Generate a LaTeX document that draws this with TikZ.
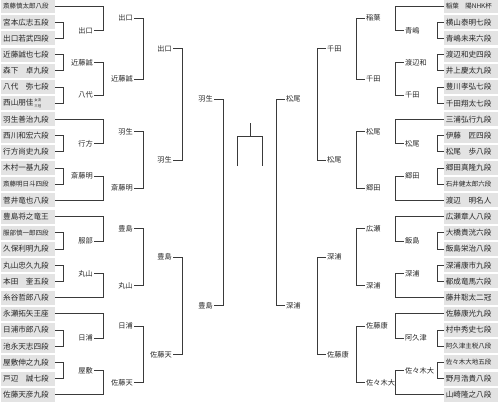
\documentclass[tikz,border=0pt]{standalone}
\usepackage{fontspec}
\setmainfont{Noto Sans CJK JP}
\usetikzlibrary{calc}
\definecolor{boxgray}{HTML}{E3E3E3}
\definecolor{wiregray}{HTML}{3A3A3A}
\newcommand\smallname{\fontsize{6.5}{7}\selectfont}
\newcommand\jstack[2]{\kern0.8pt\raisebox{-2pt}{\fontsize{3.4}{5.2}\selectfont\shortstack{#1\\#2}}}

\begin{document}
\begin{tikzpicture}[
  x=1pt,y=-1pt,
  player/.style={fill=boxgray,text width=50pt,inner sep=2pt,minimum height=14pt,
    align=left,font=\fontsize{7.6}{8}\selectfont,text=black!85},
  lbl/.style={inner sep=1pt,font=\fontsize{7.2}{8}\selectfont,text=black!85},
  wire/.style={draw=wiregray,line width=0.7pt}
]
\useasboundingbox (0,0) rectangle (499,402);
% columns of the bracket
\coordinate (cL1) at (63,0);  \coordinate (cL2) at (103,0);
\coordinate (cL3) at (143,0); \coordinate (cL4) at (182,0);
\coordinate (cL5) at (223,0);
\coordinate (cR1) at (437,0); \coordinate (cR2) at (395,0);
\coordinate (cR3) at (356,0); \coordinate (cR4) at (317,0);
\coordinate (cR5) at (276,0);

% players, left block
\foreach \i/\lab in {1/{\smallname 斎藤慎太郎八段},2/宮本広志五段,3/出口若武四段,
  4/近藤誠也七段,5/森下　卓九段,6/八代　弥七段,7/{西山朋佳\jstack{女流}{三冠}},
  8/羽生善治九段,9/西川和宏六段,10/行方尚史九段,11/木村一基九段,
  12/{\smallname 斎藤明日斗四段},13/菅井竜也八段,14/豊島将之竜王,
  15/{\smallname 服部慎一郎四段},16/久保利明九段,17/丸山忠久九段,18/本田　奎五段,
  19/糸谷哲郎八段,20/永瀬拓矢王座,21/日浦市郎八段,22/池永天志四段,
  23/屋敷伸之九段,24/戸辺　誠七段,25/佐藤天彦九段}{
  \node[player,anchor=west] (L\i) at (1,{6+16.2*(\i-1)}) {\lab};
}
% players, right block
\foreach \i/\lab in {1/{\smallname 稲葉　陽NHK杯},2/横山泰明七段,3/青嶋未来六段,
  4/渡辺和史四段,5/井上慶太九段,6/豊川孝弘七段,7/千田翔太七段,8/三浦弘行九段,
  9/伊藤　匠四段,10/松尾　歩八段,11/郷田真隆九段,12/{\smallname 石井健太郎六段},
  13/渡辺　明名人,14/広瀬章人八段,15/大橋貴洸六段,16/飯島栄治八段,
  17/深浦康市九段,18/都成竜馬六段,19/藤井聡太二冠,20/佐藤康光九段,
  21/村中秀史七段,22/{\smallname 阿久津主税八段},23/{\smallname 佐々木大地五段},
  24/野月浩貴八段,25/山崎隆之八段}{
  \node[player,anchor=east] (R\i) at (498,{6+16.2*(\i-1)}) {\lab};
}

% winners, left
\foreach \nm/\x/\y/\txt in {l1a/94/30.3/出口,l1b/94/62.7/近藤誠,l1c/94/95.1/八代,
  l1d/94/143.7/行方,l1e/94/176.1/斎藤明,l1f/94/240.9/服部,l1g/94/273.3/丸山,
  l1h/94/338.1/日浦,l1i/94/370.5/屋敷,
  l2a/134/18.15/出口,l2b/134/78.9/近藤誠,l2c/134/131.55/羽生,l2d/134/188.25/斎藤明,
  l2e/134/228.75/豊島,l2f/134/285.45/丸山,l2g/134/325.95/日浦,l2h/134/382.65/佐藤天,
  l3a/173/48.5/出口,l3b/173/159.9/羽生,l3c/173/257.1/豊島,l3d/173/354.3/佐藤天,
  l4a/214/99/羽生,l4b/214/305.7/豊島}{
  \node[lbl,anchor=east] (\nm) at (\x,\y) {\txt};
}
% winners, right
\foreach \nm/\x/\y/\txt in {r1a/404/30.3/青嶋,r1b/404/62.7/渡辺和,r1c/404/95.1/千田,
  r1d/404/143.7/松尾,r1e/404/176.1/郷田,r1f/404/240.9/飯島,r1g/404/273.3/深浦,
  r1h/404/338.1/阿久津,r1i/404/370.5/佐々木大,
  r2a/365/18.15/稲葉,r2b/365/78.9/千田,r2c/365/131.55/松尾,r2d/365/188.25/郷田,
  r2e/365/228.75/広瀬,r2f/365/285.45/深浦,r2g/365/325.95/佐藤康,r2h/365/382.65/佐々木大,
  r3a/326/48.5/千田,r3b/326/159.9/松尾,r3c/326/257.1/深浦,r3d/326/354.3/佐藤康,
  r4a/285/99/松尾,r4b/285/305.7/深浦}{
  \node[lbl,anchor=west] (\nm) at (\x,\y) {\txt};
}

% bracket lines
\foreach \a/\b/\c in {L2/L3/cL1,L4/L5/cL1,L6/L7/cL1,L9/L10/cL1,L11/L12/cL1,
  L15/L16/cL1,L17/L18/cL1,L21/L22/cL1,L23/L24/cL1,
  L1/l1a/cL2,l1b/l1c/cL2,L8/l1d/cL2,l1e/L13/cL2,L14/l1f/cL2,l1g/L19/cL2,
  L20/l1h/cL2,l1i/L25/cL2,
  l2a/l2b/cL3,l2c/l2d/cL3,l2e/l2f/cL3,l2g/l2h/cL3,
  l3a/l3b/cL4,l3c/l3d/cL4,l4a/l4b/cL5}{
  \draw[wire] (\a.east) -- (\a.east -| \c) |- (\b.east);
}
\foreach \a/\b/\c in {R2/R3/cR1,R4/R5/cR1,R6/R7/cR1,R9/R10/cR1,R11/R12/cR1,
  R15/R16/cR1,R17/R18/cR1,R21/R22/cR1,R23/R24/cR1,
  R1/r1a/cR2,r1b/r1c/cR2,R8/r1d/cR2,r1e/R13/cR2,R14/r1f/cR2,r1g/R19/cR2,
  R20/r1h/cR2,r1i/R25/cR2,
  r2a/r2b/cR3,r2c/r2d/cR3,r2e/r2f/cR3,r2g/r2h/cR3,
  r3a/r3b/cR4,r3c/r3d/cR4,r4a/r4b/cR5}{
  \draw[wire] (\a.west) -- (\a.west -| \c) |- (\b.west);
}

% final
\draw[wire] (250,123) -- (250,136);
\draw[wire] (237,166) |- (262,136) -- (262,166);
\end{tikzpicture}
\end{document}
